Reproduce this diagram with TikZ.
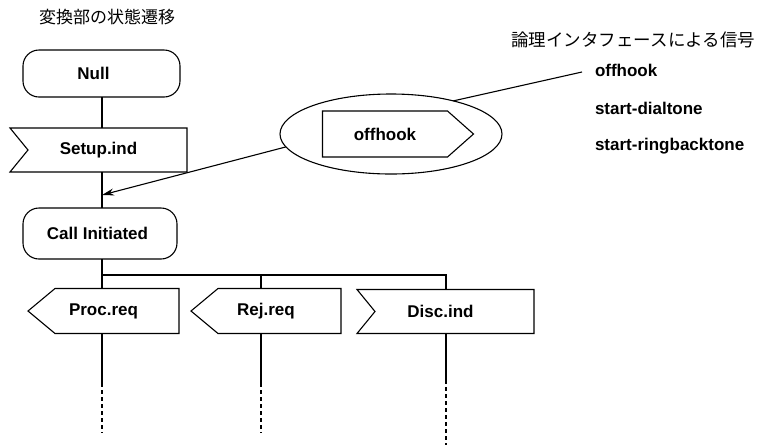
\documentclass[tikz,border=0pt]{standalone}
\usepackage{fontspec}
\setmainfont{Liberation Sans}
\newfontfamily\jp{Noto Sans CJK JP}
\usetikzlibrary{shapes.geometric,arrows.meta,calc}
\begin{document}
\begin{tikzpicture}[x=1pt,y=1pt,
  every node/.style={inner sep=0pt,outer sep=0pt},
  ln/.style={line width=1.1pt,line join=miter},
  lbl/.style={font=\fontsize{17}{20}\selectfont\bfseries},
  jptxt/.style={font=\jp\fontsize{17}{20}\selectfont},
  statebox/.style={draw,ln,rounded corners=16pt,lbl},
  sigbox/.style={lbl,minimum height=44pt},
  dashpart/.style={ln,dash pattern=on 4pt off 3pt}]
\useasboundingbox (0,0) rectangle (757,-445);

% titles
\node[jptxt] (title) at (107,-17) {変換部の状態遷移};
\node[jptxt,anchor=east,font=\jp\fontsize{17.5}{20}\selectfont] (hdr) at (755,-40) {論理インタフェースによる信号};
\node[lbl,anchor=west] (s1) at (595,-70) {offhook};
\node[lbl,anchor=west] (s2) at (595,-108) {start-dialtone};
\node[lbl,anchor=west] (s3) at (595,-146) {start-ringbacktone};

% states
\node[statebox,minimum width=157pt,minimum height=47pt] (null) at (101.5,-73.5) {\hspace*{-16pt}Null};
\node[statebox,minimum width=154pt,minimum height=51pt] (ci) at (100,-233.5) {\hspace*{-5pt}Call Initiated};

% input signal Setup.ind
\node[sigbox,minimum width=177pt] (setup) at (98.5,-150) {Setup.ind};
\draw[ln] (setup.north west) -- (setup.north east) -- (setup.south east) -- (setup.south west)
  -- ($(setup.west)+(18,0)$) -- cycle;

% ellipse with output signal offhook
\node[draw,ln,ellipse,minimum width=222pt,minimum height=80pt] (ell) at (391,-134) {};
\node[lbl,minimum width=125pt,minimum height=46pt] (ofh) at (385,-134) {offhook};
\draw[ln] (ofh.north west) -- (ofh.north east) -- ($(ofh.east)+(26,0)$) -- (ofh.south east)
  -- (ofh.south west) -- cycle;

% lower signals
\node[sigbox,minimum width=151pt,minimum height=45pt] (proc) at (103.5,-311) {Proc.req};
\draw[ln] ($(proc.north west)+(27,0)$) -- (proc.north east) -- (proc.south east)
  -- ($(proc.south west)+(27,0)$) -- (proc.west) -- cycle;
\node[sigbox,minimum width=150pt,minimum height=45pt] (rej) at (266,-311) {Rej.req};
\draw[ln] ($(rej.north west)+(27,0)$) -- (rej.north east) -- (rej.south east)
  -- ($(rej.south west)+(27,0)$) -- (rej.west) -- cycle;
\node[sigbox,minimum width=177pt,minimum height=44pt] (disc) at (445.5,-311.5) {\hspace*{-10pt}Disc.ind};
\draw[ln] (disc.north west) -- (disc.north east) -- (disc.south east) -- (disc.south west)
  -- ($(disc.west)+(18,0)$) -- cycle;

% flow lines
\coordinate (vx) at (102,0);
\draw[ln] (null.south -| vx) -- (setup.north -| vx);
\draw[ln] (setup.south -| vx) -- (ci.north -| vx);
\coordinate (arr) at (102,-195);
\draw[ln,-{Stealth[length=12pt,width=7pt]}] (ell.187) -- (arr);
\draw[ln] (ell.28) -- ([xshift=-13pt,yshift=-2pt]s1.west);

\coordinate (br) at (102,-275);
\coordinate (rejx) at (261,-275);
\coordinate (discx) at (446,-275);
\draw[ln] (ci.south -| vx) -- (proc.north -| vx);
\draw[ln] (br) -- (discx) -- (disc.north -| discx);
\draw[ln] (rejx) -- (rej.north -| rejx);

% continuation lines
\coordinate (p1) at (102,-383); \coordinate (p2) at (102,-433);
\coordinate (r1) at (261,-383); \coordinate (r2) at (261,-433);
\coordinate (d1) at (446,-380); \coordinate (d2) at (446,-445);
\draw[ln] (proc.south -| vx) -- (p1);
\draw[dashpart] (p1) -- (p2);
\draw[ln] (rej.south -| rejx) -- (r1);
\draw[dashpart] (r1) -- (r2);
\draw[ln] (disc.south -| discx) -- (d1);
\draw[dashpart] (d1) -- (d2);
\end{tikzpicture}
\end{document}
